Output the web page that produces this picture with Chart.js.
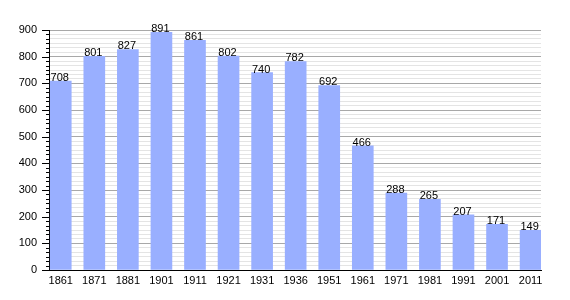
<!DOCTYPE html>
<html>
<head>
<meta charset="utf-8">
<script src="https://cdn.jsdelivr.net/npm/chart.js@4/dist/chart.umd.min.js"></script>
<style>
  html, body { margin: 0; padding: 0; background: #fff; }
  #wrap { width: 570px; height: 300px; }
</style>
</head>
<body>
<div id="wrap"><canvas id="pop"></canvas></div>
<script>
// Population par année de recensement
var annees = ["1861", "1871", "1881", "1901", "1911", "1921", "1931", "1936", "1951", "1961", "1971", "1981", "1991", "2001", "2011"];
var habitants = [708, 801, 827, 891, 861, 802, 740, 782, 692, 466, 288, 265, 207, 171, 149];
var yMax = 900;
var yMajor = 100;
var yMinorParMajor = 6;

var police = "'Liberation Sans', Arial, sans-serif";

// points sur un axe x lineaire (index de l'annee)
var points = habitants.map(function (v, i) { return { x: i, y: v }; });

// etiquettes au-dessus des barres
var valeursPlugin = {
    id: "valeurs",
    afterDatasetsDraw: function (chart) {
        var ctx = chart.ctx;
        var meta = chart.getDatasetMeta(0);
        ctx.save();
        ctx.font = "11px " + police;
        ctx.fillStyle = "#000";
        ctx.textAlign = "center";
        ctx.textBaseline = "alphabetic";
        meta.data.forEach(function (bar, i) {
            ctx.fillText(habitants[i], bar.x - 1, bar.y);
        });
        ctx.restore();
    }
};

// petites graduations a gauche de l'axe y
var graduationsPlugin = {
    id: "graduations",
    afterDraw: function (chart) {
        var ctx = chart.ctx;
        var y = chart.scales.y;
        var gauche = chart.chartArea.left;
        ctx.save();
        ctx.strokeStyle = "#000";
        ctx.lineWidth = 1;
        y.ticks.forEach(function (t, i) {
            var py = Math.round(y.getPixelForValue(t.value)) + 0.5;
            var long = (i % yMinorParMajor === 0) ? 7 : 3;
            ctx.beginPath();
            ctx.moveTo(gauche - long, py);
            ctx.lineTo(gauche, py);
            ctx.stroke();
        });
        ctx.restore();
    }
};

var ctx1 = document.getElementById("pop").getContext("2d");
var graphique = new Chart(ctx1, {
    type: "bar",
    data: {
        datasets: [{
            data: points,
            backgroundColor: "rgb(153, 175, 255)",
            borderWidth: 0,
            barThickness: 21
        }]
    },
    options: {
        responsive: true,
        maintainAspectRatio: false,
        animation: false,
        layout: { padding: { top: 30, right: 29, left: 0, bottom: 0 } },
        plugins: {
            legend: { display: false },
            tooltip: { enabled: false }
        },
        scales: {
            x: {
                type: "linear",
                offset: false,
                bounds: "data",
                min: -0.35,
                max: 14.31,
                afterBuildTicks: function (scale) {
                    scale.ticks = annees.map(function (_a, i) { return { value: i }; });
                },
                afterFit: function (scale) { scale.height = 30; },
                grid: { display: false, drawTicks: false, offset: false },
                border: { display: true, color: "#000", width: 1 },
                ticks: {
                    autoSkip: false,
                    maxRotation: 0,
                    padding: 4,
                    color: "#000",
                    font: { family: police, size: 11 },
                    callback: function (value) { return annees[value]; }
                }
            },
            y: {
                min: 0,
                max: yMax,
                afterBuildTicks: function (scale) {
                    var t = [];
                    var n = (yMax / yMajor) * yMinorParMajor;
                    for (var i = 0; i <= n; i++) {
                        t.push({ value: i * yMajor / yMinorParMajor });
                    }
                    scale.ticks = t;
                },
                afterFit: function (scale) { scale.width = 49; },
                grid: {
                    drawTicks: false,
                    tickLength: 0,
                    color: function (c) {
                        return (c.index % yMinorParMajor === 0) ? "#a8a8a8" : "#e4e4e4";
                    }
                },
                border: { display: true, color: "#000", width: 1 },
                ticks: {
                    autoSkip: false,
                    padding: 12,
                    color: "#000",
                    font: { family: police, size: 11 },
                    callback: function (value, index) {
                        return (index % yMinorParMajor === 0) ? Math.round(value) : "";
                    }
                }
            }
        }
    },
    plugins: [valeursPlugin, graduationsPlugin]
});
</script>
</body>
</html>
